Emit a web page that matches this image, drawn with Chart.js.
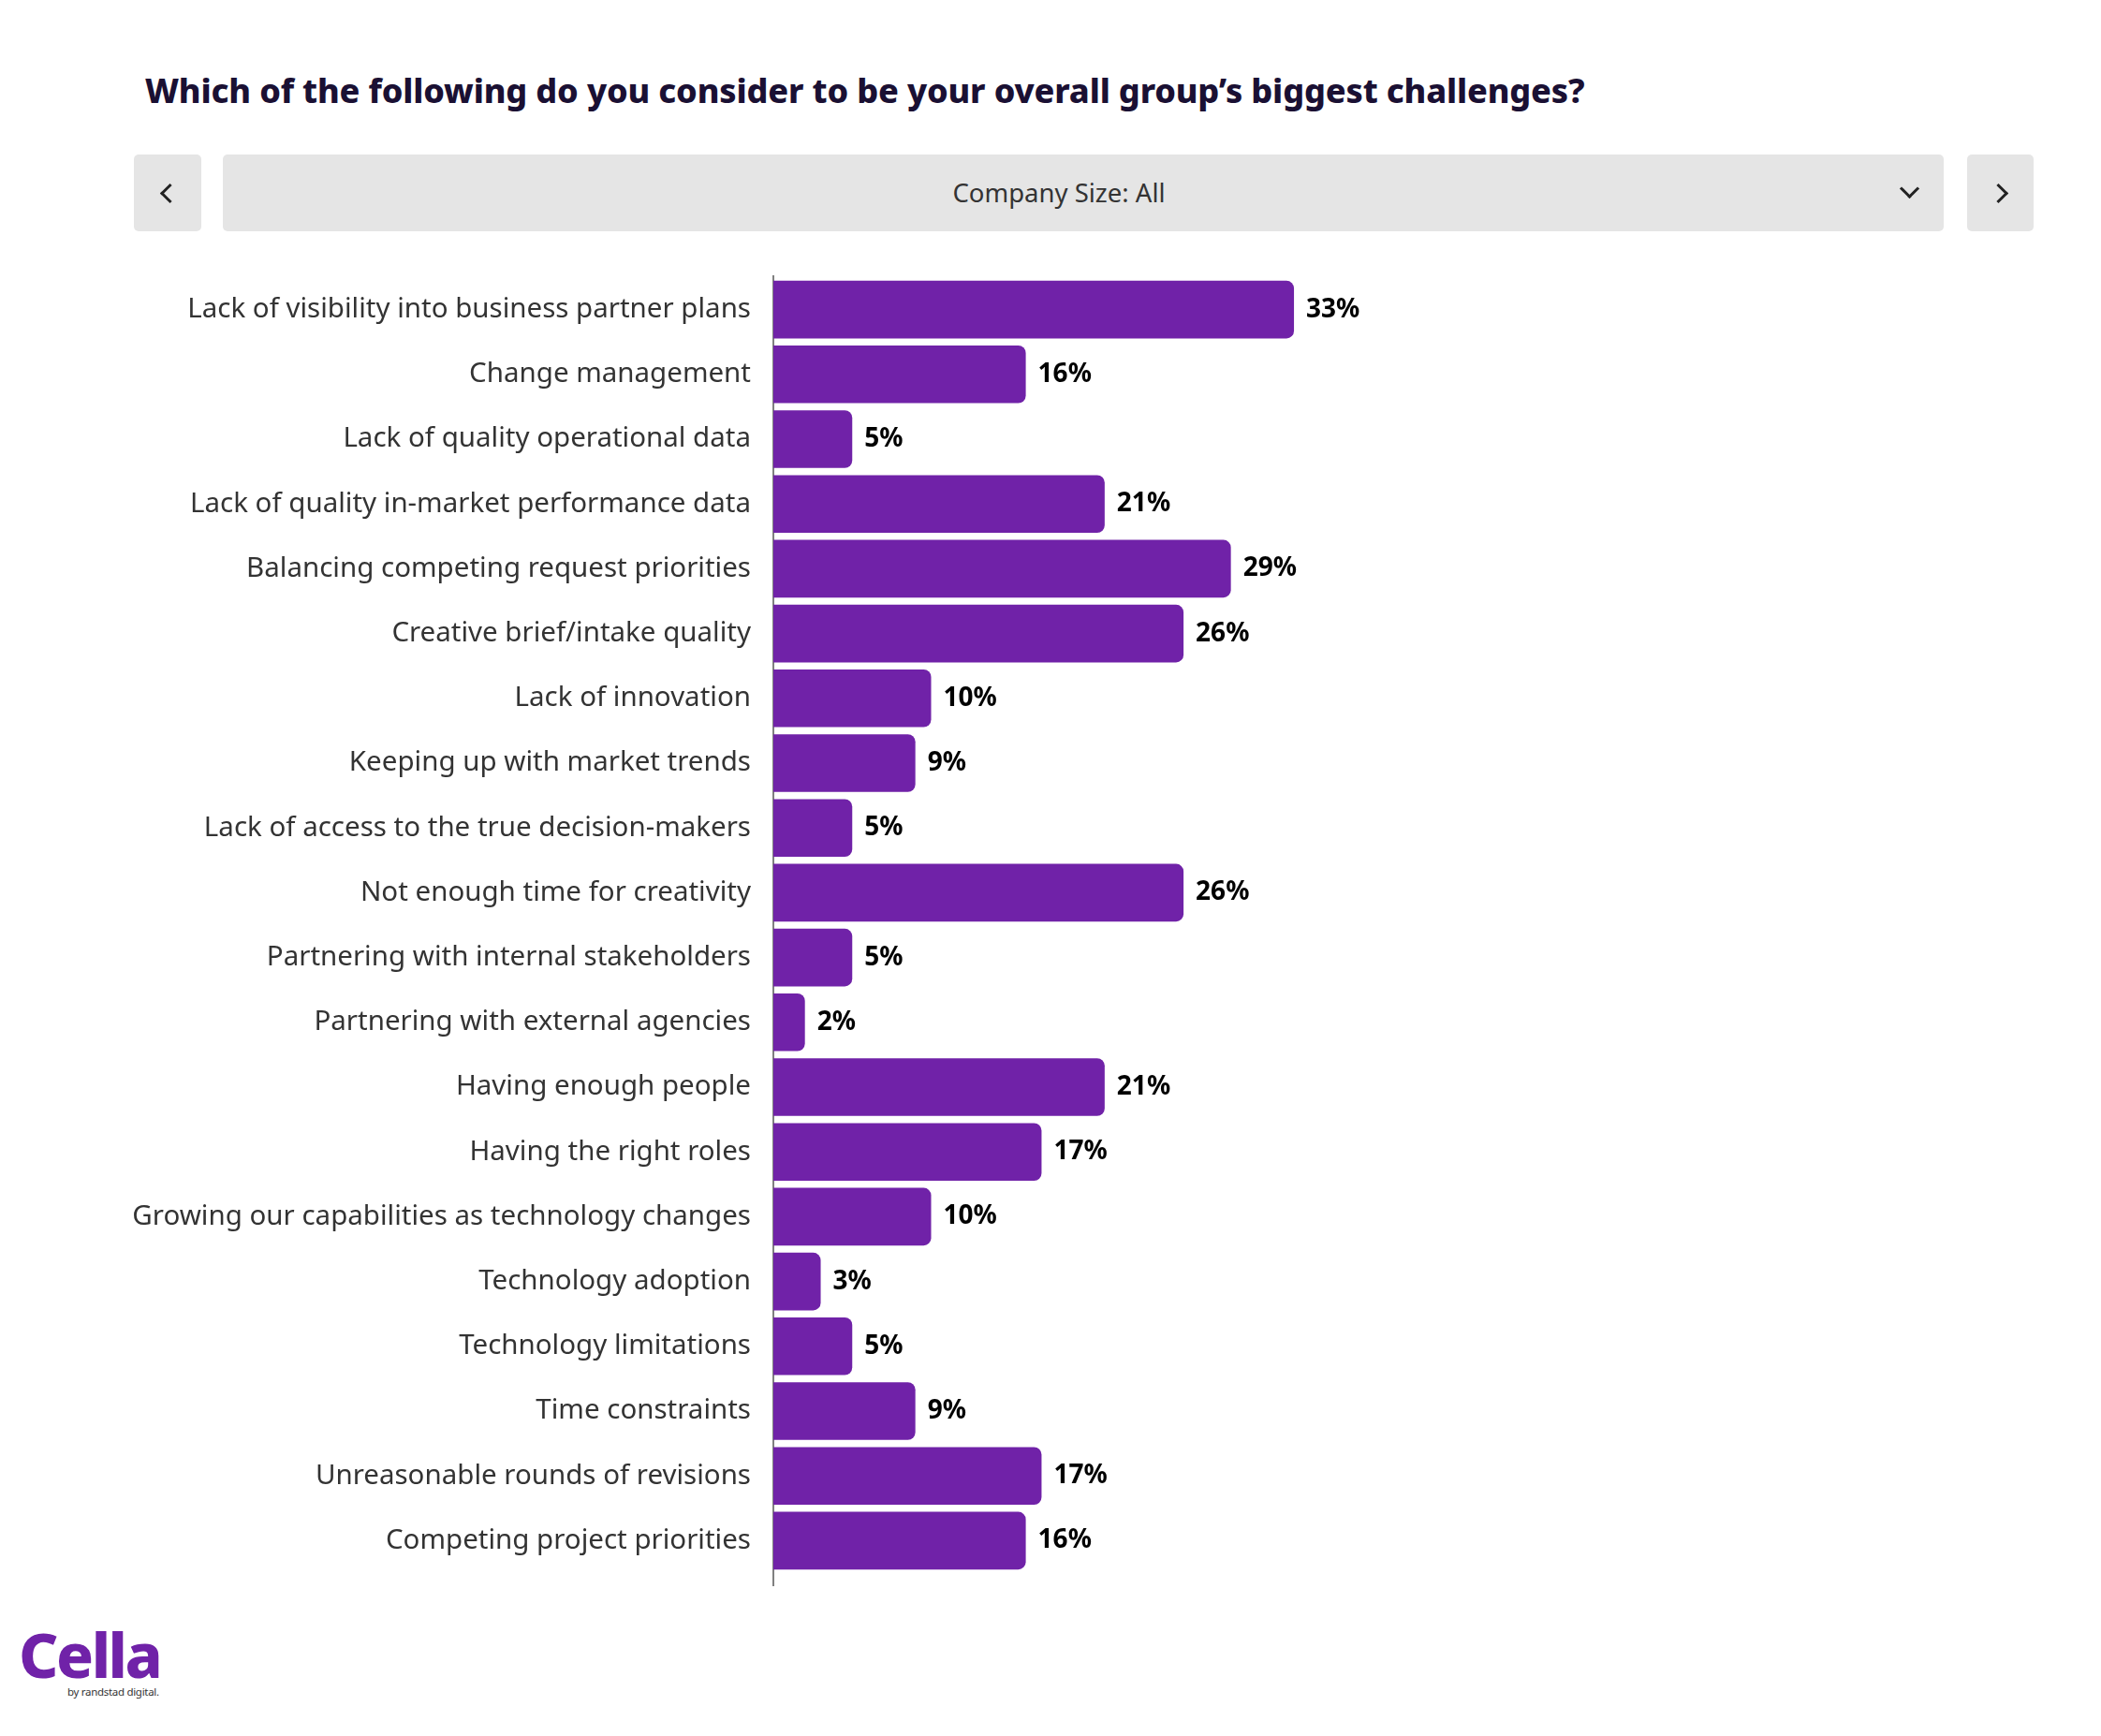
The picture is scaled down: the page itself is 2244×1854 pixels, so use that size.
<!DOCTYPE html>
<html>
<head>
<meta charset="utf-8">
<script src="https://cdn.jsdelivr.net/npm/chart.js@4"></script>
<style>
  html, body { margin: 0; padding: 0; background: #ffffff; }
  body { width: 2244px; height: 1854px; position: relative; overflow: hidden; font-family: "Noto Sans", sans-serif; }
  #title { position: absolute; left: 155px; top: 72px; font-family: "Noto Sans", sans-serif; font-weight: 800; font-size: 36px; color: #1a1033; white-space: nowrap; letter-spacing: -0.14px; }
  .btn { position: absolute; top: 165px; height: 82px; background: #e5e5e5; border-radius: 5px; }
  #prev { left: 143px; width: 72px; }
  #sel { left: 238px; width: 1838px; }
  #next { left: 2101px; width: 71px; }
  .chev { position: absolute; width: 12px; height: 12px; border-right: 3.5px solid #222; border-bottom: 3.5px solid #222; }
  #selText { position: absolute; left: 0; right: 52px; top: 0; line-height: 82px; text-align: center; font-size: 27.5px; color: #333; }
  #chartWrap { position: absolute; left: 0; top: 285px; width: 2244px; height: 1430px; }
  #logo { position: absolute; left: 20px; top: 1733px; font-family: "Noto Sans", sans-serif; font-weight: 800; font-size: 66px; color: #7022a8; letter-spacing: -2.5px; line-height: 1; }
  #byline { position: absolute; left: 72px; top: 1799px; font-size: 11.5px; color: #333; letter-spacing: -0.3px; }
</style>
</head>
<body>
<div id="title">Which of the following do you consider to be your overall group’s biggest challenges?</div>
<div class="btn" id="prev"><div class="chev" style="left:31px; top:34px; transform: rotate(135deg);"></div></div>
<div class="btn" id="sel"><div id="selText">Company Size: All</div><div class="chev" style="right:29px; top:29px; transform: rotate(45deg);"></div></div>
<div class="btn" id="next"><div class="chev" style="left:26px; top:34px; transform: rotate(-45deg);"></div></div>
<div id="chartWrap"><canvas id="c"></canvas></div>
<div id="logo">Cella</div>
<div id="byline">by randstad digital.</div>
<script>
const categories = [
  "Lack of visibility into business partner plans",
  "Change management",
  "Lack of quality operational data",
  "Lack of quality in-market performance data",
  "Balancing competing request priorities",
  "Creative brief/intake quality",
  "Lack of innovation",
  "Keeping up with market trends",
  "Lack of access to the true decision-makers",
  "Not enough time for creativity",
  "Partnering with internal stakeholders",
  "Partnering with external agencies",
  "Having enough people",
  "Having the right roles",
  "Growing our capabilities as technology changes",
  "Technology adoption",
  "Technology limitations",
  "Time constraints",
  "Unreasonable rounds of revisions",
  "Competing project priorities"
];
const values = [33, 16, 5, 21, 29, 26, 10, 9, 5, 26, 5, 2, 21, 17, 10, 3, 5, 9, 17, 16];
const valueSuffix = "%";

const valueLabels = {
  id: 'valueLabels',
  beforeDatasetsDraw(chart) {
    const ctx = chart.ctx;
    const a = chart.chartArea;
    ctx.save();
    ctx.strokeStyle = '#808080';
    ctx.lineWidth = 2;
    ctx.beginPath();
    ctx.moveTo(a.left, a.top - 2);
    ctx.lineTo(a.left, a.bottom + 14);
    ctx.stroke();
    ctx.restore();
  },
  afterDatasetsDraw(chart) {
    const ctx = chart.ctx;
    const meta = chart.getDatasetMeta(0);
    ctx.save();
    ctx.font = 'bold 28px "Noto Sans", sans-serif';
    ctx.fillStyle = '#000000';
    ctx.textAlign = 'left';
    ctx.textBaseline = 'middle';
    meta.data.forEach((bar, i) => {
      ctx.fillText(values[i] + valueSuffix, bar.x + 13, bar.y);
    });
    ctx.restore();
  }
};

new Chart(document.getElementById('c'), {
  type: 'bar',
  data: {
    labels: categories,
    datasets: [{
      data: values,
      backgroundColor: '#7022a8',
      borderRadius: { topLeft: 0, bottomLeft: 0, topRight: 8, bottomRight: 8 },
      borderSkipped: false,
      barPercentage: 0.89,
      categoryPercentage: 1.0
    }]
  },
  options: {
    indexAxis: 'y',
    responsive: true,
    maintainAspectRatio: false,
    animation: false,
    devicePixelRatio: 1,
    layout: { padding: { top: 11, bottom: 35, right: 70, left: 0 } },
    plugins: { legend: { display: false }, tooltip: { enabled: false } },
    scales: {
      x: { display: false, min: 0, max: 80 },
      y: {
        afterFit(scale) { scale.width = 826; scale.paddingTop = 0; scale.paddingBottom = 0; },
        grid: { display: false, drawTicks: false },
        border: { display: false },
        ticks: { padding: 24, color: '#333333', font: { family: '"Noto Sans", sans-serif', size: 29.5 } }
      }
    }
  },
  plugins: [valueLabels]
});
</script>
</body>
</html>
